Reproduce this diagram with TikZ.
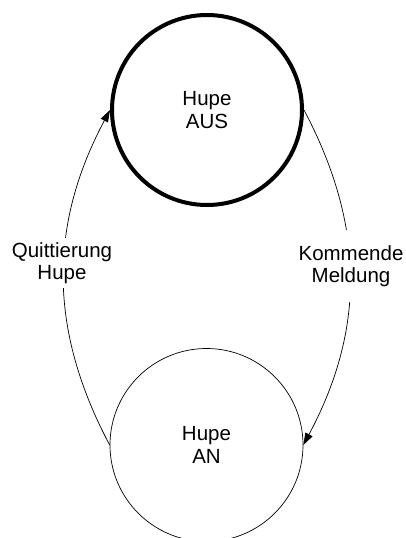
\documentclass[tikz,border=0pt]{standalone}
\usepackage{fontspec}
\setmainfont{Liberation Sans}
\usetikzlibrary{arrows.meta}
\begin{document}
\begin{tikzpicture}[x=1pt,y=-1pt,
  state/.style={circle, draw, align=center, font=\fontsize{20.5}{23}\selectfont, inner sep=0pt},
  lbl/.style={fill=white, align=center, font=\fontsize{20.5}{22.5}\selectfont, inner xsep=1pt, inner ysep=0pt},
  conn/.style={line width=0.7pt, -{Triangle[length=12pt,width=8pt]}}]
\useasboundingbox (0,0) rectangle (405,538);
\node[state, line width=4pt, minimum size=190pt] (aus) at (207,110) {Hupe\\AUS};
\node[state, line width=0.7pt, minimum size=193pt] (an) at (206.5,445) {Hupe\\AN};
\draw[conn] (aus.east) to[bend left=28] (an.east);
\draw[conn] (an.west) to[bend left=28] (aus.west);
\node[lbl, minimum height=72pt] (km) at (351,266) {Kommende\\Meldung};
\node[lbl, minimum height=50pt] (qh) at (62,263) {Quittierung\\Hupe};
\end{tikzpicture}
\end{document}
